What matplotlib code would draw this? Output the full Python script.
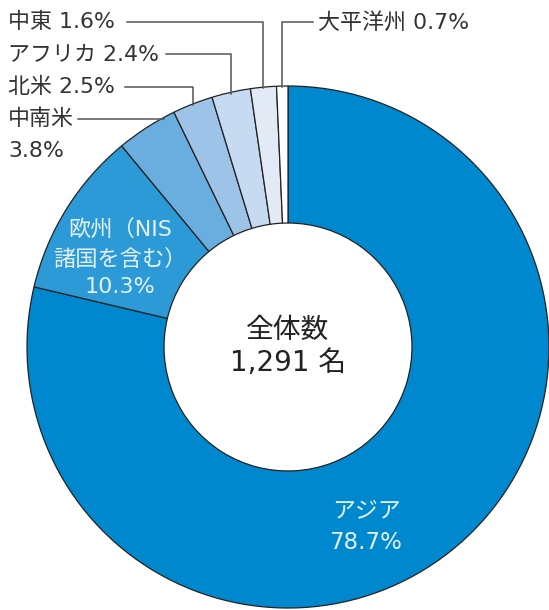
import numpy as np
import matplotlib.pyplot as plt

plt.rcParams['font.family'] = ['DejaVu Sans', 'Noto Sans CJK JP']

# 地域別の割合（%）
regions = ['アジア', '欧州（NIS諸国を含む）', '中南米', '北米', 'アフリカ', '中東', '大平洋州']
shares = [78.7, 10.3, 3.8, 2.5, 2.4, 1.6, 0.7]
colors = ['#0088cf', '#2b9ad6', '#6aaddf', '#9dc4e8', '#c6dbf2', '#e2eaf6', '#ffffff']
total = '1,291'

W, H = 549, 610
fig = plt.figure(figsize=(W / 100, H / 100), dpi=100)
cx, cy, R = 288, 347, 261
ax = fig.add_axes([(cx - R) / W, (H - cy - R) / H, 2 * R / W, 2 * R / H])

wedges, _ = ax.pie(shares, colors=colors, startangle=90, counterclock=False,
                   radius=1, wedgeprops=dict(width=0.525, edgecolor='#222222', linewidth=0.9))
ax.set_xlim(-1, 1)
ax.set_ylim(-1, 1)
ax.axis('off')


def to_data(px, py):
    return (px - cx) / R, (cy - py) / R


def mid_angle(w):
    return np.deg2rad((w.theta1 + w.theta2) / 2)


# 中心のテキスト
ax.text(0, 0.065, '全体数', ha='center', va='center', fontsize=20, color='#222222')
ax.text(0, -0.06, f'{total} 名', ha='center', va='center', fontsize=20, color='#222222')

# 内側のラベル
inner = '#e4f1fa'
x, y = to_data(120, 258)
ax.text(x, y, '欧州（NIS\n諸国を含む）\n' + f'{shares[1]}%', ha='center', va='center',
        fontsize=16, color=inner, linespacing=1.5)
x, y = to_data(366, 527)
ax.text(x, y, 'アジア\n' + f'{shares[0]}%', ha='center', va='center',
        fontsize=16.5, color=inner, linespacing=1.45)

# 外側のラベル（引き出し線つき）
line_kw = dict(color='#555555', linewidth=1.1, clip_on=False)
txt_kw = dict(fontsize=15.8, color='#333333', va='center')

outer = [
    # index, text x, text y, line start x
    (5, 8, 22, 127),
    (4, 8, 54, 166),
    (3, 8, 87, 125),
]
for i, tx, ty, lx in outer:
    ax.text(*to_data(tx, ty), f'{regions[i]} {shares[i]}%', ha='left', **txt_kw)
    a = mid_angle(wedges[i])
    ex, ey = np.cos(a), np.sin(a)
    x0, y0 = to_data(lx, ty)
    ax.plot([x0, ex, ex], [y0, y0, ey - 0.005], **line_kw)

# 大平洋州（右側）
i = 6
ax.text(*to_data(318, 22), f'{regions[i]} {shares[i]}%', ha='left', **txt_kw)
a = mid_angle(wedges[i])
ex, ey = np.cos(a), np.sin(a)
x0, y0 = to_data(313, 22)
ax.plot([x0, ex, ex], [y0, y0, ey - 0.005], **line_kw)

# 中南米（2行）
i = 2
ax.text(*to_data(8, 119), regions[i], ha='left', **txt_kw)
ax.text(*to_data(8, 151), f'{shares[i]}%', ha='left', **txt_kw)
x0, y0 = to_data(78, 119)
ex = -np.sqrt(1 - y0 ** 2)
ax.plot([x0, ex + 0.01], [y0, y0], **line_kw)

fig.savefig('out.png', dpi=100)
